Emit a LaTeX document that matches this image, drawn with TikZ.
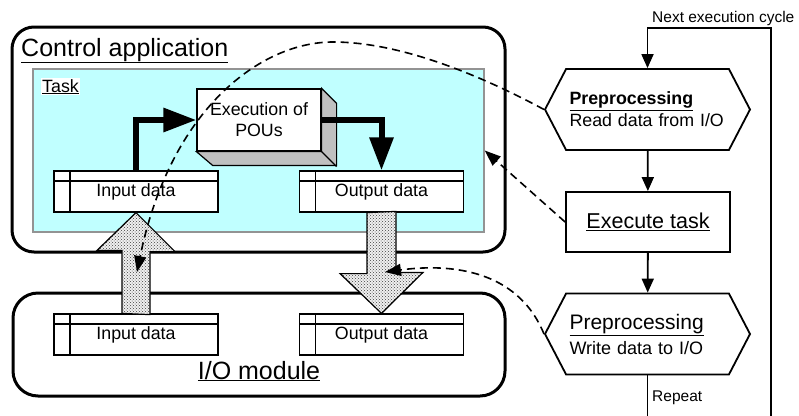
\documentclass[tikz,border=0pt]{standalone}
\usepackage{fontspec}
\setmainfont{Liberation Sans}
\usepackage{tikz}
\usetikzlibrary{arrows.meta,calc,positioning,shapes.symbols,patterns}
\definecolor{taskcyan}{RGB}{192,255,255}
\definecolor{podgray}{RGB}{192,192,192}
\newcommand{\fsbig}{\fontsize{25}{30}\selectfont}
\newcommand{\fsmid}{\fontsize{17.8}{21}\selectfont}
\newcommand{\fsflow}{\fontsize{21.5}{25}\selectfont}
\newcommand{\fssmall}{\fontsize{15.5}{18}\selectfont}
\tikzset{
  ctrlbox/.style={
    draw,
    line width=3pt,
    rounded corners=22pt,
    minimum width=493pt,
    minimum height=225pt
  },
  iobox/.style={
    draw,
    line width=3pt,
    rounded corners=25pt,
    minimum width=492pt,
    minimum height=103pt
  },
  taskbox/.style={
    draw=gray!85,
    line width=1.5pt,
    fill=taskcyan,
    minimum width=451pt,
    minimum height=163pt
  },
  databox/.style={
    draw,
    line width=1.2pt,
    fill=white,
    minimum width=164pt,
    minimum height=41pt,
    font=\fsmid,
    path picture={
      \draw[line width=1.2pt] ([xshift=16pt]path picture bounding box.north west) -- ([xshift=16pt]path picture bounding box.south west);
      \draw[line width=1.2pt] ([yshift=-10pt]path picture bounding box.north west) -- ([yshift=-10pt]path picture bounding box.north east);
    }
  },
  pou/.style={
    draw,
    line width=1.2pt,
    fill=white,
    align=center,
    minimum width=124pt,
    minimum height=62pt,
    font=\fsmid
  },
  podside/.style={
    draw,
    line width=1.2pt,
    fill=podgray
  },
  flowbox/.style={
    draw,
    line width=1.8pt,
    fill=white,
    minimum width=164pt,
    minimum height=60pt,
    font=\fsflow
  },
  hexbox/.style={
    draw,
    line width=1.8pt,
    fill=white,
    signal,
    signal to=west and east,
    signal pointer angle=125,
    minimum width=205pt,
    minimum height=81pt,
    text width=156pt,
    align=left,
    inner sep=0pt
  },
  thickarrow/.style={
    -{Triangle[length=33pt,width=23pt]},
    line width=6pt
  },
  bigarrow/.style={
    draw,
    line width=1.2pt,
    preaction={fill=gray!12},
    pattern=crosshatch dots,
    pattern color=black!75
  },
  flowarrow/.style={
    -{Triangle[length=14pt,width=12pt]},
    line width=1.8pt
  },
  dasharrow/.style={
    -{Triangle[length=16pt,width=12pt]},
    line width=1.6pt,
    dash pattern=on 8pt off 5pt
  }
}

\begin{document}
\begin{tikzpicture}[x=1pt,y=-1pt]
\useasboundingbox (0,0) rectangle (799,415);
% control application
\node[ctrlbox] (ctrl) at (258.5,139.5) {};
\node[taskbox] (task) at (258.5,150.5) {};
\node[font=\fsbig, anchor=base west, inner sep=0pt] (ctrllbl) at (21,56) {\underline{Control application}};
\node[font=\fsmid, fill=white, inner sep=1pt, anchor=base west] (tasklbl) at (41,92) {\underline{Task}};
\node[databox] (inT) at (136,191.5) {Input data};
\node[databox] (outT) at (381.5,191.5) {Output data};
\node[pou] (exec) at (259,120) {Execution of\\POUs};
\filldraw[podside] (exec.north east) -- ++(15,15) -- ++(0,62) -- ++(-124,0) -- (exec.south west) -- (exec.south east) -- cycle;
\draw[line width=1.2pt] (exec.south east) -- ++(15,15);
\draw[thickarrow] (inT.north) |- (exec.west);
\draw[thickarrow] (exec.east) -| (outT.north);
% I/O module
\node[iobox] (io) at (259,344.5) {};
\node[font=\fsbig, anchor=base, inner sep=0pt] (iolbl) at (259,379) {\underline{I/O module}};
\node[databox] (inIO) at (136,334.5) {Input data};
\node[databox] (outIO) at (381.5,334.5) {Output data};
\draw[bigarrow] ($(inIO.north)+(-14,0)$) -- ++(0,-63) -- ++(-25,0) -- (inT.south) -- ++(39,39) -- ++(-25,0) -- ++(0,63) -- cycle;
\draw[bigarrow] ($(outT.south)+(-14.5,0)$) -- ++(0,61) -- ++(-27,0) -- (outIO.north) -- ++(41.5,-41) -- ++(-27,0) -- ++(0,-61) -- cycle;
% flow chart
\node[hexbox, font=\fontsize{17.8}{22}\selectfont] (read) at (647.5,109.5) {{\bfseries\underline{Preprocessing}}\\Read data from I/O};
\node[flowbox] (exe) at (648,222) {\underline{Execute task}};
\node[hexbox, font=\fontsize{18}{25}\selectfont] (write) at (647.5,334) {{\fontsize{21}{25}\selectfont\underline{Preprocessing}}\\Write data to I/O};
\draw[flowarrow] (read) -- (exe);
\draw[flowarrow] (exe) -- (write);
\coordinate (loopR) at (771,28);
\draw[flowarrow] (write.south) -- ++(0,70) -| (loopR) -| (read.north);
\node[font=\fssmall, anchor=base west, inner sep=0pt] (nextlbl) at (652,22) {Next execution cycle};
\node[font=\fssmall, anchor=base west, inner sep=0pt] (replbl) at (652,401) {Repeat};
% dashed links
\coordinate (rdTip) at (137,272);
\coordinate (wrTip) at (385,272);
\draw[dasharrow] (read.west) .. controls (480,75) and (400,42) .. (333,42) .. controls (260,42) and (170,110) .. (rdTip);
\draw[dasharrow] (exe.west) -- (task.east);
\draw[dasharrow] (write.west) .. controls (520,275) and (460,262) .. (wrTip);
\end{tikzpicture}
\end{document}
